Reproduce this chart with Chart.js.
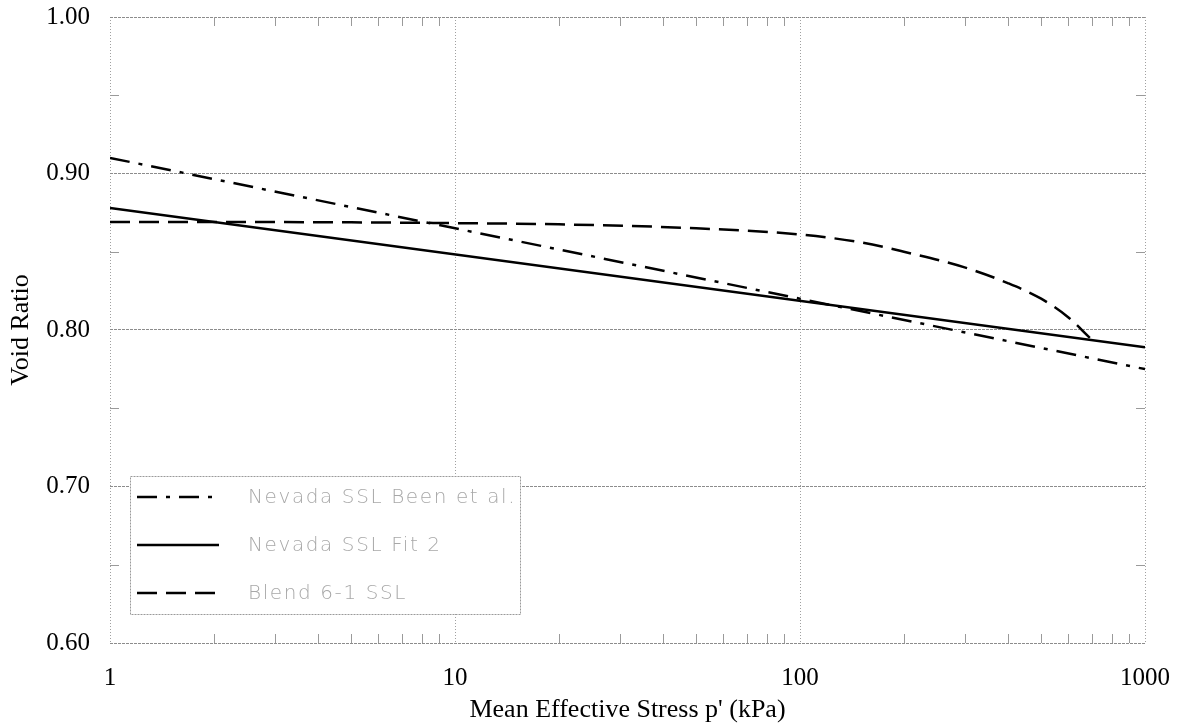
<!DOCTYPE html>
<html>
<head>
<meta charset="utf-8">
<script src="https://cdn.jsdelivr.net/npm/chart.js@4/dist/chart.umd.min.js"></script>
<style>
  html, body { margin: 0; padding: 0; background: #ffffff; }
  #wrap { width: 1183px; height: 726px; }
</style>
</head>
<body>
<div id="wrap"><canvas id="c" width="1183" height="726"></canvas></div>
<script>
// Mean effective stress p' (kPa) and void ratio for each steady-state line
const beenStress = [1, 1000];
const beenVoid = [0.910, 0.775];

const fit2Stress = [1, 1000];
const fit2Void = [0.878, 0.789];

const blendStress = [1, 2, 5, 10, 20, 50, 100, 150, 200, 300, 400, 500, 600, 692];
const blendVoid = [0.869, 0.869, 0.8688, 0.8683, 0.8675, 0.865, 0.861, 0.856, 0.850, 0.840, 0.830, 0.820, 0.808, 0.795];

const seriesLabels = ['Nevada SSL Been et al.', 'Nevada SSL Fit 2', 'Blend 6-1 SSL'];

const xMajorTicks = [1, 10, 100, 1000];
const yMajorTicks = [0.60, 0.70, 0.80, 0.90, 1.00];
const xMinorMultipliers = [2, 3, 4, 5, 6, 7, 8, 9];
const yMinorTicks = [0.65, 0.75, 0.85, 0.95];

const toPoints = (xs, ys) => xs.map((x, i) => ({ x: x, y: ys[i] }));

const serifFont = '"Liberation Serif", "Times New Roman", serif';

// Minor tick marks along all four sides of the plot frame
const minorTicks = {
  id: 'minorTicks',
  afterDatasetsDraw(chart) {
    const { ctx, chartArea: a, scales: { x, y } } = chart;
    ctx.save();
    ctx.strokeStyle = '#9a9a9a';
    ctx.lineWidth = 1;
    const len = 9;
    ctx.beginPath();
    for (let d = 1; d < 1000; d *= 10) {
      xMinorMultipliers.forEach(m => {
        const px = Math.round(x.getPixelForValue(d * m)) + 0.5;
        ctx.moveTo(px, a.bottom); ctx.lineTo(px, a.bottom - len);
        ctx.moveTo(px, a.top); ctx.lineTo(px, a.top + len);
      });
    }
    yMinorTicks.forEach(v => {
      const py = Math.round(y.getPixelForValue(v)) + 0.5;
      ctx.moveTo(a.left, py); ctx.lineTo(a.left + len, py);
      ctx.moveTo(a.right, py); ctx.lineTo(a.right - len, py);
    });
    ctx.stroke();
    ctx.restore();
  }
};

// Boxed legend placed in the lower-left corner of the plot
const boxLegend = {
  id: 'boxLegend',
  afterDatasetsDraw(chart) {
    const { ctx, chartArea: a } = chart;
    const bx = a.left + 20, by = 476, bw = 390, bh = 138;
    ctx.save();
    ctx.fillStyle = '#ffffff';
    ctx.fillRect(bx, by, bw, bh);
    ctx.strokeStyle = '#9a9a9a';
    ctx.lineWidth = 1;
    ctx.setLineDash([2, 1]);
    ctx.strokeRect(bx + 0.5, by + 0.5, bw, bh);
    const rows = [498, 546, 594];
    chart.data.datasets.forEach((ds, i) => {
      const yy = rows[i];
      ctx.setLineDash(ds.borderDash || []);
      ctx.strokeStyle = ds.borderColor;
      ctx.lineWidth = ds.borderWidth;
      ctx.beginPath();
      ctx.moveTo(bx + 7, yy - 1);
      ctx.lineTo(bx + 89, yy - 1);
      ctx.stroke();
      ctx.setLineDash([]);
      ctx.fillStyle = '#a8a8a8';
      ctx.font = '200 20px "DejaVu Sans", sans-serif';
      ctx.letterSpacing = '1.6px';
      ctx.textBaseline = 'middle';
      ctx.textAlign = 'left';
      ctx.fillText(ds.label, bx + 118, yy);
    });
    ctx.restore();
  }
};

new Chart(document.getElementById('c'), {
  type: 'line',
  data: {
    datasets: [
      {
        label: seriesLabels[0],
        data: toPoints(beenStress, beenVoid),
        borderColor: '#000000',
        borderWidth: 2.5,
        borderDash: [20, 9, 4, 9],
        pointRadius: 0,
        fill: false
      },
      {
        label: seriesLabels[1],
        data: toPoints(fit2Stress, fit2Void),
        borderColor: '#000000',
        borderWidth: 2.5,
        borderDash: [],
        pointRadius: 0,
        fill: false
      },
      {
        label: seriesLabels[2],
        data: toPoints(blendStress, blendVoid),
        borderColor: '#000000',
        borderWidth: 2.5,
        borderDash: [20, 9],
        cubicInterpolationMode: 'monotone',
        pointRadius: 0,
        fill: false
      }
    ]
  },
  options: {
    responsive: false,
    animation: false,
    devicePixelRatio: 1,
    layout: { padding: { left: 0, top: 17, right: 38, bottom: 0 } },
    plugins: {
      legend: { display: false },
      tooltip: { enabled: false }
    },
    scales: {
      x: {
        type: 'logarithmic',
        min: 1,
        max: 1000,
        afterBuildTicks(scale) { scale.ticks = xMajorTicks.map(v => ({ value: v })); },
        afterFit(scale) {
          scale.height = 83;
          scale.paddingLeft = 0;
          scale.paddingRight = 0;
        },
        ticks: {
          color: '#000000',
          font: { family: serifFont, size: 25 },
          padding: 20,
          maxRotation: 0,
          callback: v => String(v)
        },
        grid: { color: '#a0a0a0', lineWidth: 1, drawTicks: false },
        border: { display: false, dash: [1, 2] },
        title: {
          display: true,
          text: "Mean Effective Stress p' (kPa)",
          color: '#000000',
          font: { family: serifFont, size: 26 },
          padding: { top: 0, bottom: 0 }
        }
      },
      y: {
        type: 'linear',
        min: 0.60,
        max: 1.00,
        afterBuildTicks(scale) { scale.ticks = yMajorTicks.map(v => ({ value: v })); },
        afterFit(scale) {
          scale.width = 110;
          scale.paddingTop = 0;
          scale.paddingBottom = 0;
        },
        ticks: {
          color: '#000000',
          font: { family: serifFont, size: 25 },
          padding: 20,
          callback: v => Number(v).toFixed(2)
        },
        grid: { color: '#8c8c8c', lineWidth: 1, drawTicks: false },
        border: { display: false, dash: [3, 1] },
        title: {
          display: true,
          text: 'Void Ratio',
          color: '#000000',
          font: { family: serifFont, size: 26 },
          padding: { top: 6, bottom: 0 }
        }
      }
    }
  },
  plugins: [minorTicks, boxLegend]
});
</script>
</body>
</html>
